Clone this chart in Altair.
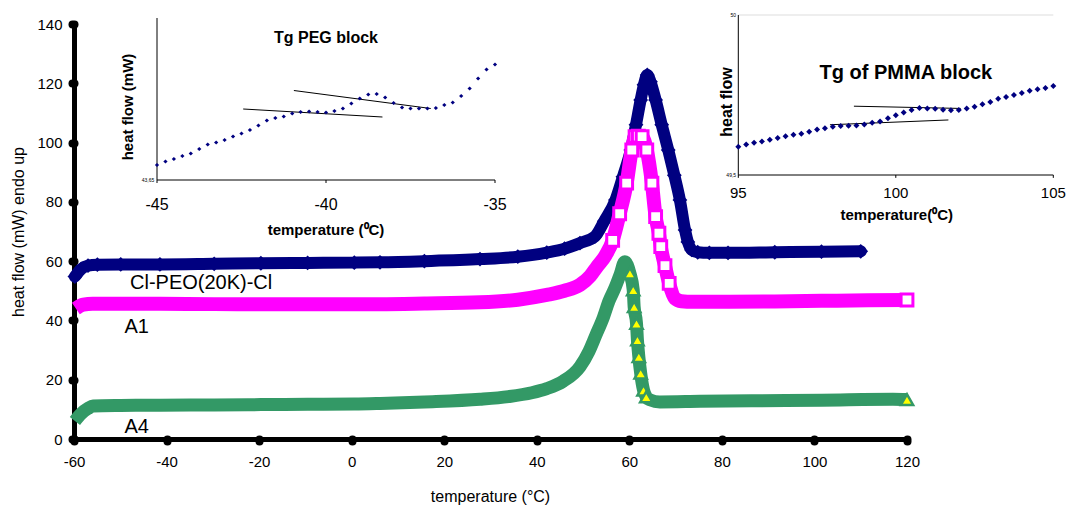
import altair as alt
import pandas as pd

# ---------------- main DSC curves (temperature degC, heat flow mW) ----------------
blue_x = [-59.8, -58.49, -56.97, -54.95, -49.9, -41.43, -29.71, -19.62, -9.52, 0.57, 6.12,
          15.71, 27.73, 35.9, 42.16, 46.0, 49.33, 52.56, 54.58, 57.0, 58.62, 60.33, 61.44,
          62.45, 63.16, 63.87, 64.57, 65.68, 67.0, 68.41, 69.72, 70.93, 72.04, 72.65, 73.46,
          74.77, 77.29, 81.33, 91.43, 101.52, 110.0]
blue_y = [54.8, 57.3, 58.5, 58.8, 58.9, 58.9, 59.1, 59.3, 59.4, 59.5, 59.6, 60.0, 60.7, 61.5,
          62.9, 64.2, 66.1, 68.3, 73.5, 80.6, 88.5, 97.5, 106.0, 114.4, 119.5, 122.8, 120.5,
          114.4, 106.0, 97.5, 89.0, 80.6, 70.5, 66.5, 63.8, 63.0, 62.8, 62.8, 63.0, 63.2, 63.3]

mag_x = [-59.6, -57.98, -55.96, -49.9, -41.43, -29.71, -19.62, -9.52, 0.57, 6.12, 15.71,
         27.73, 35.9, 42.16, 46.0, 49.33, 51.55, 52.96, 54.88, 56.4, 57.91, 59.42, 60.53,
         61.24, 61.95, 62.76, 63.77, 64.88, 65.68, 66.39, 66.79, 67.7, 68.61, 69.82, 71.24,
         73.76, 81.33, 91.43, 101.52, 111.62, 120.0]
mag_y = [44.0, 45.3, 45.6, 45.6, 45.6, 45.5, 45.5, 45.5, 45.5, 45.5, 45.7, 46.1, 47.0, 48.6,
         50.0, 52.0, 55.0, 58.0, 62.0, 67.0, 76.0, 86.3, 97.5, 102.0, 102.2, 102.0, 97.5, 86.3,
         75.0, 69.4, 64.9, 58.5, 52.5, 47.5, 46.5, 46.3, 46.3, 46.4, 46.6, 46.8, 46.9]

grn_x = [-59.8, -58.49, -56.97, -55.86, -49.9, -41.43, -29.71, -19.62, -9.52, 0.57, 6.12,
         15.71, 27.73, 33.88, 38.93, 42.16, 45.7, 49.33, 51.25, 52.76, 54.38, 55.59, 56.9,
         58.01, 59.02, 60.13, 60.84, 61.04, 61.55, 61.75, 62.05, 62.45, 63.06, 63.66, 64.47,
         66.59, 75.27, 86.38, 101.52, 116.97, 120.0]
grn_y = [6.1, 8.5, 10.3, 11.1, 11.3, 11.4, 11.5, 11.6, 11.7, 11.8, 12.0, 12.5, 13.4, 14.3,
         15.6, 17.0, 19.5, 24.4, 29.5, 35.0, 41.0, 46.5, 51.0, 55.5, 59.8, 55.9, 50.3, 44.6,
         39.0, 33.4, 27.8, 22.2, 16.5, 14.2, 13.2, 12.5, 12.7, 12.9, 13.1, 13.4, 13.3]

x_ticks = [-60, -40, -20, 0, 20, 40, 60, 80, 100, 120]
y_ticks = [0, 20, 40, 60, 80, 100, 120, 140]

# ---------------- inset 1: Tg PEG block ----------------
ins1_x = [-45.0, -44.75, -44.5, -44.25, -44.0, -43.75, -43.5, -43.25, -43.0, -42.75, -42.5,
          -42.25, -42.0, -41.75, -41.5, -41.25, -41.0, -40.75, -40.5, -40.25, -40.0, -39.75,
          -39.5, -39.25, -39.0, -38.75, -38.5, -38.25, -38.0, -37.75, -37.5, -37.25, -37.0,
          -36.75, -36.5, -36.25, -36.0, -35.75, -35.5, -35.25, -35.0]
ins1_y = [43.680, 43.687, 43.692, 43.698, 43.703, 43.712, 43.721, 43.725, 43.730, 43.737,
          43.743, 43.750, 43.759, 43.769, 43.774, 43.777, 43.783, 43.786, 43.787, 43.786,
          43.785, 43.788, 43.793, 43.803, 43.813, 43.821, 43.822, 43.815, 43.804, 43.795,
          43.793, 43.793, 43.793, 43.794, 43.800, 43.805, 43.818, 43.833, 43.853, 43.871, 43.881]
ins1_tan1_x = [-42.45, -38.33]
ins1_tan1_y = [43.792, 43.776]
ins1_tan2_x = [-40.95, -36.90]
ins1_tan2_y = [43.829, 43.793]
ins1_ticks = [-45, -40, -35]
ins1_tick_labels = ["-45", "-40", "-35"]

# ---------------- inset 2: Tg of PMMA block ----------------
ins2_x = [95.0, 95.25, 95.5, 95.75, 96.0, 96.25, 96.5, 96.75, 97.0, 97.25, 97.5, 97.75, 98.0,
          98.25, 98.5, 98.75, 99.0, 99.25, 99.5, 99.75, 100.0, 100.25, 100.5, 100.75, 101.0,
          101.25, 101.5, 101.75, 102.0, 102.25, 102.5, 102.75, 103.0, 103.25, 103.5, 103.75,
          104.0, 104.25, 104.5, 104.75, 105.0]
ins2_y = [49.588, 49.595, 49.601, 49.605, 49.610, 49.616, 49.621, 49.626, 49.629, 49.635,
          49.642, 49.646, 49.651, 49.653, 49.654, 49.655, 49.658, 49.663, 49.667, 49.677,
          49.687, 49.695, 49.703, 49.709, 49.708, 49.707, 49.704, 49.702, 49.703, 49.708,
          49.713, 49.721, 49.728, 49.738, 49.744, 49.750, 49.756, 49.763, 49.768, 49.772, 49.778]
ins2_tan1_x = [97.91, 101.67]
ins2_tan1_y = [49.657, 49.672]
ins2_tan2_x = [98.67, 102.06]
ins2_tan2_y = [49.715, 49.708]
ins2_ticks = [95, 100, 105]
ins2_tick_labels = ["95", "100", "105"]

NAVY, MAG, GRN, YEL = "#000080", "#FF00FF", "#339966", "#FFFF00"
FONT = "Liberation Sans"
one = pd.DataFrame({"k": [0]})

# ================= main panel =================
xs = alt.Scale(domain=[-60, 120], nice=False, zero=False)
ys = alt.Scale(domain=[0, 140], nice=False, zero=False)
lbl_expr = "datum.value < 0 ? '-' + abs(datum.value) : '' + datum.value"
x_axis = alt.Axis(values=x_ticks, title="temperature (°C)", labelExpr=lbl_expr, grid=False,
                  domainColor="black", domainWidth=5, domainCap="round",
                  tickColor="black", tickWidth=8, tickSize=2, tickCap="round",
                  labelFont=FONT, labelFontSize=15, labelColor="black", labelPadding=13,
                  labelFlush=False, labelOverlap=False,
                  titleFont=FONT, titleFontSize=16, titleFontWeight="normal", titleColor="black",
                  titleX=416, titleY=57, titleBaseline="middle", titleAlign="center")
y_axis = alt.Axis(values=y_ticks, title="heat flow (mW) endo up", grid=False,
                  domainColor="black", domainWidth=5, domainCap="round",
                  tickColor="black", tickWidth=8, tickSize=2, tickCap="round",
                  labelFont=FONT, labelFontSize=15, labelColor="black", labelPadding=10,
                  labelFlush=False, labelOverlap=False,
                  titleFont=FONT, titleFontSize=16, titleFontWeight="normal", titleColor="black",
                  titleX=-56, titleY=207.5, titleAngle=270, titleBaseline="middle",
                  titleAlign="center")


def enc(ch):
    return ch.encode(x=alt.X("x:Q", scale=xs, axis=x_axis), y=alt.Y("y:Q", scale=ys, axis=y_axis))


blue_df = pd.DataFrame({"x": blue_x, "y": blue_y})
mag_df = pd.DataFrame({"x": mag_x, "y": mag_y})
grn_df = pd.DataFrame({"x": grn_x, "y": grn_y})

blue_line = enc(alt.Chart(blue_df).mark_line(color=NAVY, strokeWidth=12, strokeCap="round",
                                             strokeJoin="round", interpolate="monotone"))
blue_pts = enc(alt.Chart(blue_df).mark_point(shape="diamond", filled=True, color=NAVY,
                                             size=220, opacity=1))
mag_line = enc(alt.Chart(mag_df).mark_line(color=MAG, strokeWidth=14, strokeCap="butt",
                                           strokeJoin="round", interpolate="monotone"))
mag_pts = enc(alt.Chart(mag_df).transform_filter(
    "(datum.x > 56 && datum.x < 69.5) || datum.x > 119").mark_point(
    shape="square", filled=True, fill="white", stroke=MAG, strokeWidth=3, size=140, opacity=1))
grn_line = enc(alt.Chart(grn_df).mark_line(color=GRN, strokeWidth=13, strokeCap="butt",
                                           strokeJoin="round", interpolate="monotone"))
grn_pts = enc(alt.Chart(grn_df).transform_filter(
    "(datum.x > 59.5 && datum.x < 64) || datum.x > 119").mark_point(
    shape="triangle-up", filled=True, fill=YEL, stroke=GRN, strokeWidth=2.5, size=150, opacity=1))


def main_label(txt, x, y):
    return alt.Chart(one).mark_text(text=txt, font=FONT, fontSize=20, align="left",
                                    baseline="middle", color="black").encode(
        x=alt.XDatum(x, scale=xs, axis=x_axis), y=alt.YDatum(y, scale=ys, axis=y_axis))


main = alt.layer(blue_line, blue_pts, mag_line, mag_pts, grn_line, grn_pts,
                 main_label("Cl-PEO(20K)-Cl", -47.9, 52.5),
                 main_label("A1", -49.1, 37.7),
                 main_label("A4", -49.1, 4.0))

# ================= inset 1 =================
s1x = alt.Scale(domain=[-45, -35], range=[83, 421], nice=False, zero=False)
s1y = alt.Scale(domain=[43.65, 43.97], range=[156, -4], nice=False, zero=False)


def e1(ch):
    return ch.encode(x=alt.X("x:Q", scale=s1x, axis=None), y=alt.Y("y:Q", scale=s1y, axis=None))


def t1(txt, x, y, **kw):
    return alt.Chart(one).mark_text(text=txt, font=FONT, color="black", **kw).encode(
        x=alt.XDatum(x, scale=s1x, axis=None), y=alt.YDatum(y, scale=s1y, axis=None))


ins1_axes = alt.layer(
    alt.Chart(one).mark_rule(color="black", strokeWidth=1).encode(
        x=alt.XDatum(-45, scale=s1x, axis=None), y=alt.YDatum(43.65, scale=s1y, axis=None),
        y2=alt.Y2Datum(43.974)),
    alt.Chart(one).mark_rule(color="black", strokeWidth=1).encode(
        x=alt.XDatum(-45, scale=s1x, axis=None), x2=alt.X2Datum(-35),
        y=alt.YDatum(43.65, scale=s1y, axis=None)),
    alt.Chart(pd.DataFrame({"v": ins1_ticks})).mark_rule(color="black", strokeWidth=1).encode(
        x=alt.X("v:Q", scale=s1x, axis=None), y=alt.YDatum(43.65, scale=s1y, axis=None),
        y2=alt.Y2Datum(43.644)),
    alt.Chart(pd.DataFrame({"v": ins1_ticks, "t": ins1_tick_labels})).mark_text(
        font=FONT, fontSize=16, color="black", baseline="middle").encode(
        x=alt.X("v:Q", scale=s1x, axis=None), y=alt.YDatum(43.60, scale=s1y, axis=None),
        text="t:N"),
)
ins1_tan = alt.layer(
    e1(alt.Chart(pd.DataFrame({"x": ins1_tan1_x, "y": ins1_tan1_y})).mark_line(
        color="black", strokeWidth=1)),
    e1(alt.Chart(pd.DataFrame({"x": ins1_tan2_x, "y": ins1_tan2_y})).mark_line(
        color="black", strokeWidth=1)),
)
ins1_pts = e1(alt.Chart(pd.DataFrame({"x": ins1_x, "y": ins1_y})).mark_point(
    shape="diamond", filled=True, color=NAVY, size=18, opacity=1))
inset1 = alt.layer(
    ins1_axes, ins1_tan, ins1_pts,
    t1("Tg PEG block", -40.0, 43.934, fontSize=16, fontWeight="bold", align="center",
       baseline="middle"),
    t1("temperature (⁰C)", -40.0, 43.55, fontSize=15, fontWeight="bold", align="center",
       baseline="middle"),
    t1("heat flow (mW)", -45.86, 43.796, fontSize=15, fontWeight="bold", align="center",
       baseline="middle", angle=270),
    t1("43,65", -45.08, 43.65, fontSize=5, align="right", baseline="middle"),
)

# ================= inset 2 =================
s2x = alt.Scale(domain=[95, 105], range=[664.3, 979.3], nice=False, zero=False)
s2y = alt.Scale(domain=[49.5, 50.0], range=[151, -9], nice=False, zero=False)


def e2(ch):
    return ch.encode(x=alt.X("x:Q", scale=s2x, axis=None), y=alt.Y("y:Q", scale=s2y, axis=None))


def t2(txt, x, y, **kw):
    return alt.Chart(one).mark_text(text=txt, font=FONT, color="black", **kw).encode(
        x=alt.XDatum(x, scale=s2x, axis=None), y=alt.YDatum(y, scale=s2y, axis=None))


ins2_axes = alt.layer(
    alt.Chart(one).mark_rule(color="#dddddd", strokeWidth=1).encode(
        x=alt.XDatum(95, scale=s2x, axis=None), x2=alt.X2Datum(105),
        y=alt.YDatum(50.0, scale=s2y, axis=None)),
    alt.Chart(one).mark_rule(color="black", strokeWidth=1).encode(
        x=alt.XDatum(95, scale=s2x, axis=None), y=alt.YDatum(49.5, scale=s2y, axis=None),
        y2=alt.Y2Datum(50.0)),
    alt.Chart(one).mark_rule(color="black", strokeWidth=1).encode(
        x=alt.XDatum(95, scale=s2x, axis=None), x2=alt.X2Datum(105),
        y=alt.YDatum(49.5, scale=s2y, axis=None)),
    alt.Chart(pd.DataFrame({"v": ins2_ticks})).mark_rule(color="black", strokeWidth=1).encode(
        x=alt.X("v:Q", scale=s2x, axis=None), y=alt.YDatum(49.5, scale=s2y, axis=None),
        y2=alt.Y2Datum(49.491)),
    alt.Chart(pd.DataFrame({"v": ins2_ticks, "t": ins2_tick_labels})).mark_text(
        font=FONT, fontSize=15, color="black", baseline="middle").encode(
        x=alt.X("v:Q", scale=s2x, axis=None), y=alt.YDatum(49.444, scale=s2y, axis=None),
        text="t:N"),
)
ins2_tan = alt.layer(
    e2(alt.Chart(pd.DataFrame({"x": ins2_tan1_x, "y": ins2_tan1_y})).mark_line(
        color="black", strokeWidth=1)),
    e2(alt.Chart(pd.DataFrame({"x": ins2_tan2_x, "y": ins2_tan2_y})).mark_line(
        color="black", strokeWidth=1)),
)
ins2_pts = e2(alt.Chart(pd.DataFrame({"x": ins2_x, "y": ins2_y})).mark_point(
    shape="diamond", filled=True, color=NAVY, size=36, opacity=1))
inset2 = alt.layer(
    ins2_axes, ins2_tan, ins2_pts,
    t2("Tg  of  PMMA block", 100.32, 49.819, fontSize=20, fontWeight="bold", align="center",
       baseline="middle"),
    t2("temperature(⁰C)", 100.03, 49.375, fontSize=15, fontWeight="bold", align="center",
       baseline="middle"),
    t2("heat flow", 94.64, 49.728, fontSize=16, fontWeight="bold", align="center",
       baseline="middle", angle=270),
    t2("50", 94.93, 50.0, fontSize=5, align="right", baseline="middle"),
    t2("49,5", 94.93, 49.5, fontSize=5, align="right", baseline="middle"),
)

chart = alt.layer(main, inset1, inset2).resolve_scale(
    x="independent", y="independent"
).properties(
    width=833, height=415,
    autosize=alt.AutoSizeParams(type="none"),
    padding={"left": 74, "top": 24, "right": 161, "bottom": 67},
    background="white",
).configure_view(stroke=None)

chart.save("out.html", embed_options={"renderer": "svg", "actions": False})
